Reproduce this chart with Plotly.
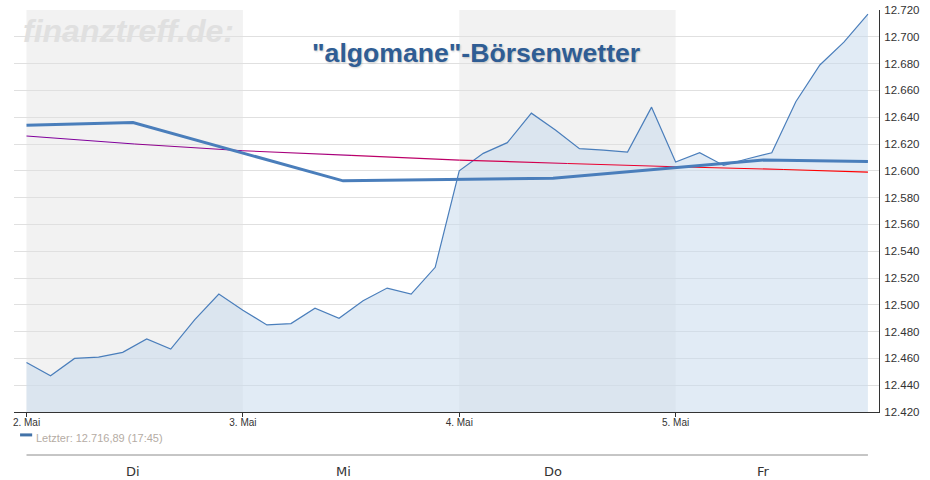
import plotly.graph_objects as go

# price points, 9 per trading day
idx = list(range(36))
price = [12457, 12447, 12460, 12461, 12464.5, 12474.5, 12467, 12489, 12508,
         12496, 12485, 12486, 12497.5, 12490, 12503, 12512.5, 12508, 12528,
         12600, 12613, 12621, 12643, 12630.5, 12616.5, 12615.5, 12614, 12647.5,
         12606.5, 12613.5, 12604, 12609, 12613.5, 12651.5, 12679, 12696, 12716.89]

# daily average line
avg_x = [0, 4.43, 13.17, 21.9, 30.65, 35]
avg_y = [12634, 12636, 12592.5, 12594.5, 12608, 12607]

# trend line, coloured piece by piece
trend_x = [0, 4.5, 9, 13.5, 18, 22.5, 27, 31.5, 35]
trend_y = [12626, 12620, 12615, 12611.5, 12608, 12605.5, 12603, 12601, 12599]
trend_col = ['#80009c', '#8f008c', '#a8007c', '#bc0068', '#d20050', '#ea0030', '#f90010', '#ff0000']

# shaded days
band_start = [0, 18]
band_end = [9, 27]

day_ticks = [0, 9, 18, 27]
day_labels = ['2. Mai', '3. Mai', '4. Mai', '5. Mai']
weekday_x = [4.43, 13.17, 21.9, 30.65]
weekdays = ['Di', 'Mi', 'Do', 'Fr']
y_ticks = list(range(12420, 12721, 20))

fig = go.Figure()

# area
fig.add_trace(go.Scatter(x=idx, y=price, mode='lines', fill='tozeroy',
                         fillcolor='rgba(200,218,237,0.54)',
                         line=dict(color='#4a7ebb', width=1.2), hoverinfo='skip'))

for i in range(len(trend_col)):
    fig.add_trace(go.Scatter(x=trend_x[i:i + 2], y=trend_y[i:i + 2], mode='lines',
                             line=dict(color=trend_col[i], width=1.1), hoverinfo='skip'))

fig.add_trace(go.Scatter(x=avg_x, y=avg_y, mode='lines',
                         line=dict(color='#4a7ebb', width=3), hoverinfo='skip'))

for s, e in zip(band_start, band_end):
    fig.add_shape(type='rect', xref='x', yref='paper', x0=s, x1=e, y0=0, y1=1,
                  fillcolor='#f2f2f2', line_width=0, layer='below')

# watermark and title
fig.add_annotation(text='finanztreff.de:', xref='paper', yref='paper', x=0.0, y=0.948,
                   xanchor='left', yanchor='middle', xshift=7, showarrow=False,
                   font=dict(family='Liberation Sans', size=32, color='#e0e0e0', weight='bold', style='italic'))
fig.add_annotation(text='"algomane"-Börsenwetter', xref='paper', yref='paper', x=0.534, y=0.893,
                   yanchor='middle', showarrow=False,
                   font=dict(family='Liberation Sans', size=26.6, color='#2f5d94', weight='bold',
                             shadow='1px 1px 2px rgba(0,0,0,0.2)'))

# legend row
fig.add_shape(type='line', xref='paper', yref='paper', x0=0.007, x1=0.021, y0=-0.057, y1=-0.057,
              line=dict(color='#4272a8', width=3))
fig.add_annotation(text='Letzter: 12.716,89 (17:45)', xref='paper', yref='paper', x=0.023, y=-0.0647,
                   xanchor='left', yanchor='middle', showarrow=False,
                   font=dict(family='Liberation Sans', size=11, color='#b5aca4'))

# weekday strip
fig.add_shape(type='line', xref='x', yref='paper', x0=0, x1=35, y0=-0.107, y1=-0.107,
              line=dict(color='#8c8c8c', width=1))
for wx, wd in zip(weekday_x, weekdays):
    fig.add_annotation(text=wd, x=wx, xref='x', yref='paper', y=-0.147, yanchor='middle', showarrow=False,
                       font=dict(family='DejaVu Sans', size=13, color='#333333'))

fig.update_layout(
    width=930, height=480,
    margin=dict(l=14, r=51, t=10, b=68),
    paper_bgcolor='white', plot_bgcolor='white',
    showlegend=False,
    separators=',.',
    font=dict(family='Liberation Sans'),
    xaxis=dict(range=[-0.52, 35.46], tickvals=day_ticks, ticktext=day_labels, automargin=False,
               showgrid=False, zeroline=False, showline=True, linecolor='#333333', linewidth=1,
               ticks='outside', ticklen=4, tickcolor='#333333', ticklabelstandoff=-3,
               tickfont=dict(size=10, color='#333333')),
    yaxis=dict(range=[12420, 12720], side='right', tickvals=y_ticks, tickformat=',d', automargin=False,
               showgrid=True, gridcolor='#e0e0e0', gridwidth=1, zeroline=False,
               showline=True, linecolor='#333333', linewidth=1, ticks='', ticklabelstandoff=2,
               tickfont=dict(size=11.5, color='#333333')),
)

# page margin would shift everything by 8px
fig.write_html("out.html", config=dict(displayModeBar=False),
               post_script="document.body.style.margin='0';")
